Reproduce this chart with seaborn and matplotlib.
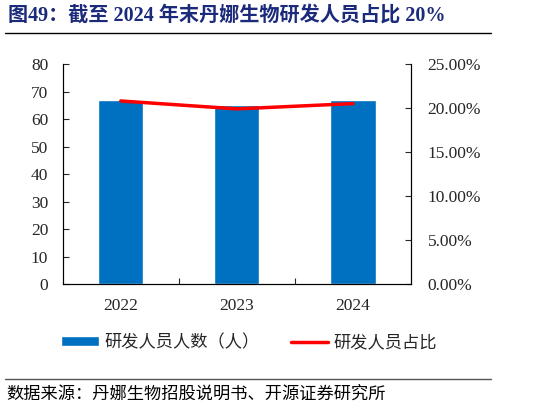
import numpy as np
import pandas as pd
import matplotlib
matplotlib.use("Agg")
import matplotlib.pyplot as plt
import seaborn as sns
from matplotlib.lines import Line2D
from matplotlib.ticker import FixedLocator

years = ["2022", "2023", "2024"]
staff = [67, 65, 67]
ratio = [20.8, 19.9, 20.5]

sns.set_style("white")
plt.rcParams["font.family"] = ["Liberation Serif", "Noto Sans CJK SC"]

df = pd.DataFrame({"year": years, "staff": staff, "ratio": ratio})
pos = np.arange(len(years))

fig = plt.figure(figsize=(5.44, 4.09), dpi=100)
ax = fig.add_axes([0.1153, 0.3056, 0.6402, 0.5379])
ax2 = ax.twinx()

sns.barplot(data=df, x="year", y="staff", color="#0070C0", width=0.39,
            saturation=1, ax=ax, label="研发人员人数（人）")
sns.lineplot(x=pos, y=df["ratio"], color="#FF0000", linewidth=2.5, ax=ax2,
             label="研发人员占比", legend=False)
if ax.get_legend() is not None:
    ax.get_legend().remove()

ax.set_xlim(-0.5, 2.5)
ax.set_ylim(0, 80)
ax.set_yticks(range(0, 81, 10))
ax2.set_ylim(0, 25)
ax2.set_yticks(np.arange(0, 26, 5))
ax2.set_yticklabels([f"{v:.2f}%" for v in np.arange(0, 26, 5)])
ax.set_xlabel("")
ax.set_ylabel("")
ax2.set_ylabel("")

for a in (ax, ax2):
    a.spines["top"].set_visible(False)
    for s in a.spines.values():
        s.set_color("#000000")
        s.set_linewidth(0.8)
ax.xaxis.set_minor_locator(FixedLocator([0.5, 1.5]))
ax.tick_params(axis="x", which="major", length=0, labelsize=12.5, pad=10)
ax.tick_params(axis="x", which="minor", direction="in", length=4, width=0.8, bottom=True)
ax.tick_params(axis="y", direction="in", length=4, width=0.8, labelsize=12.5, left=True, pad=10.5)
ax2.tick_params(axis="y", direction="in", length=4, width=0.8, labelsize=12.5, right=True, pad=12)

h1, l1 = ax.get_legend_handles_labels()
h2, l2 = ax2.get_legend_handles_labels()
fig.legend(h1 + h2, l1 + l2, loc="center", bbox_to_anchor=(0.458, 0.161), ncol=2,
           frameon=False, fontsize=12.4, handlelength=2.2, handleheight=0.5,
           columnspacing=1.8, handletextpad=0.3)

fig.text(0.015, 0.963, "图49：截至 2024 年末丹娜生物研发人员占比 20%", fontsize=14.5,
         fontweight="bold", color="#1B2A7A", va="center", ha="left")
fig.add_artist(Line2D([0.009, 0.903], [0.919, 0.919], color="#000000", linewidth=1))
fig.add_artist(Line2D([0.009, 0.903], [0.074, 0.074], color="#555555", linewidth=1))
fig.text(0.012, 0.034, "数据来源：丹娜生物招股说明书、开源证券研究所", fontsize=12.4,
         color="#000000", va="center", ha="left")

fig.savefig("out.png", dpi=100)
